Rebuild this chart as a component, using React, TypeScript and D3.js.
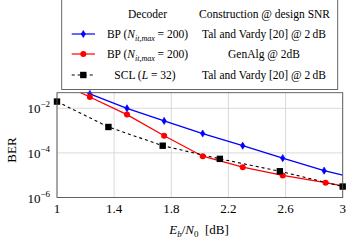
import { useMemo } from "react";
import * as d3 from "d3";

const W = 351;
const H = 241;
const PLOT = { left: 57, right: 342.7, top: 92.7, bottom: 197.5 };

// BP, Tal & Vardy construction
const bpTvEbN0 = [1.0, 1.23, 1.49, 1.75, 2.02, 2.3, 2.58, 2.87, 3.0];
const bpTvBer = [2e-1, 4.4e-2, 1.0e-2, 2.7e-3, 7.4e-4, 2.1e-4, 5.8e-5, 1.6e-5, 1.0e-5];
const bpTvMarks = [1, 2, 3, 4, 5, 6, 7];

// BP, GenAlg construction
const bpGaEbN0 = [1.0, 1.23, 1.49, 1.75, 2.02, 2.3, 2.58, 2.88, 3.0];
const bpGaBer = [1.6e-1, 3.2e-2, 5.2e-3, 5.9e-4, 7.1e-5, 2.3e-5, 9.8e-6, 4.6e-6, 3.3e-6];
const bpGaMarks = [1, 2, 3, 4, 5, 6, 7];

// SCL L=32
const sclEbN0 = [1.0, 1.36, 1.74, 2.14, 2.56, 3.0];
const sclBer = [2e-2, 1.45e-3, 2.1e-4, 5.4e-5, 1.5e-5, 3.1e-6];

const xTicks = [1, 1.4, 1.8, 2.2, 2.6, 3];
const yTicks = [-2, -4, -6];

const legendRows = [
  { decoder: "bp", construction: "Tal and Vardy [20] @ 2\u2009dB", color: "#0000ff", mark: "diamond", dash: "" },
  { decoder: "bp", construction: "GenAlg @ 2dB", color: "#ff0000", mark: "circle", dash: "" },
  { decoder: "scl", construction: "Tal and Vardy [20] @ 2\u2009dB", color: "#000000", mark: "square", dash: "3,3" },
];

const SERIF = "'Liberation Serif', 'DejaVu Serif', serif";

const Marker = ({ type, x, y, color }: { type: string; x: number; y: number; color: string }) => {
  if (type === "circle") return <circle cx={x} cy={y} r={3} fill={color} />;
  if (type === "square") return <rect x={x - 3.2} y={y - 3.2} width={6.4} height={6.4} fill={color} />;
  return (
    <path
      d={`M${x},${y - 3.6} L${x + 2.2},${y} L${x},${y + 3.6} L${x - 2.2},${y} Z`}
      fill={color}
      stroke={color}
      strokeWidth={0.6}
    />
  );
};

export default function App() {
  const xScale = useMemo(() => d3.scaleLinear().domain([1, 3]).range([PLOT.left, PLOT.right]), []);
  const yScale = useMemo(
    () => d3.scaleLog().domain([1e-6, 5e-2]).range([PLOT.bottom, PLOT.top]),
    []
  );

  const line = d3
    .line<[number, number]>()
    .x((d) => xScale(d[0]))
    .y((d) => yScale(d[1]));

  const zip = (xs: number[], ys: number[]) => xs.map((x, i) => [x, ys[i]] as [number, number]);
  const bpTv = zip(bpTvEbN0, bpTvBer);
  const bpGa = zip(bpGaEbN0, bpGaBer);
  const scl = zip(sclEbN0, sclBer);

  const rowY = [38, 58, 79];

  return (
    <div style={{ position: "fixed", left: 0, top: 0 }}>
      <svg width={W} height={H} fontFamily={SERIF}>
        <rect width={W} height={H} fill="#fff" />
        <defs>
          <clipPath id="plotclip">
            <rect x={PLOT.left} y={PLOT.top} width={PLOT.right - PLOT.left} height={PLOT.bottom - PLOT.top} />
          </clipPath>
        </defs>

        {/* grid */}
        {xTicks.map((t) => (
          <line key={"gx" + t} x1={xScale(t)} x2={xScale(t)} y1={PLOT.top} y2={PLOT.bottom} stroke="#d0d0d0" strokeWidth={0.8} />
        ))}
        {yTicks.map((t) => (
          <line
            key={"gy" + t}
            x1={PLOT.left}
            x2={PLOT.right}
            y1={yScale(Math.pow(10, t))}
            y2={yScale(Math.pow(10, t))}
            stroke="#d0d0d0"
            strokeWidth={0.8}
          />
        ))}

        {/* series */}
        <g clipPath="url(#plotclip)">
          <path d={line(bpTv) ?? ""} fill="none" stroke="#0000ff" strokeWidth={1.3} />
          <path d={line(bpGa) ?? ""} fill="none" stroke="#ff0000" strokeWidth={1.3} />
          <path d={line(scl) ?? ""} fill="none" stroke="#000" strokeWidth={1.1} strokeDasharray="3,3" />
        </g>
        {bpTvMarks.map((i) => (
          <Marker key={"b" + i} type="diamond" x={xScale(bpTvEbN0[i])} y={yScale(bpTvBer[i])} color="#0000ff" />
        ))}
        {bpGaMarks.map((i) => (
          <Marker key={"r" + i} type="circle" x={xScale(bpGaEbN0[i])} y={yScale(bpGaBer[i])} color="#ff0000" />
        ))}
        {scl.map((d, i) => (
          <Marker key={"s" + i} type="square" x={xScale(d[0])} y={yScale(d[1])} color="#000" />
        ))}

        {/* frame */}
        <rect
          x={PLOT.left}
          y={PLOT.top}
          width={PLOT.right - PLOT.left}
          height={PLOT.bottom - PLOT.top}
          fill="none"
          stroke="#555"
          strokeWidth={0.9}
        />

        {/* x tick labels */}
        {xTicks.map((t) => (
          <text key={"xl" + t} x={xScale(t)} y={213} textAnchor="middle" fontSize={13}>
            {d3.format("")(t)}
          </text>
        ))}
        {/* y tick labels */}
        {yTicks.map((t) => (
          <text key={"yl" + t} x={50} y={yScale(Math.pow(10, t)) + 5} textAnchor="end" fontSize={13}>
            10
            <tspan fontSize={9} dy={-6}>
              {"\u2212" + Math.abs(t)}
            </tspan>
          </text>
        ))}

        {/* axis labels */}
        <text x={199} y={234} textAnchor="middle" fontSize={13}>
          <tspan fontStyle="italic">E</tspan>
          <tspan fontStyle="italic" fontSize={9} dy={3}>b</tspan>
          <tspan dy={-3}>/</tspan>
          <tspan fontStyle="italic">N</tspan>
          <tspan fontSize={9} dy={3}>0</tspan>
          <tspan dy={-3}>{"\u2002[dB]"}</tspan>
        </text>
        <text transform="translate(16,150) rotate(-90)" textAnchor="middle" fontSize={13}>
          BER
        </text>

        {/* legend */}
        <rect x={61.7} y={-2} width={276} height={91.5} fill="#fff" stroke="#555" strokeWidth={0.9} />
        <text x={147.5} y={18} textAnchor="middle" fontSize={11.5}>Decoder</text>
        <text x={264.5} y={18} textAnchor="middle" fontSize={11.5}>Construction @ design SNR</text>
        {legendRows.map((r, i) => (
          <g key={"lg" + i}>
            <line x1={71.7} x2={95} y1={rowY[i] - 4} y2={rowY[i] - 4} stroke={r.color} strokeWidth={1.2} strokeDasharray={r.dash} />
            <Marker type={r.mark} x={83.3} y={rowY[i] - 4} color={r.color} />
            {r.decoder === "bp" ? (
              <text x={147.5} y={rowY[i]} textAnchor="middle" fontSize={11.5}>
                {"BP ("}
                <tspan fontStyle="italic">N</tspan>
                <tspan fontStyle="italic" fontSize={8} dy={2.5}>it,max</tspan>
                <tspan dy={-2.5}>{" = 200)"}</tspan>
              </text>
            ) : (
              <text x={145} y={rowY[i]} textAnchor="middle" fontSize={11.5}>
                {"SCL ("}
                <tspan fontStyle="italic">L</tspan>
                {" = 32)"}
              </text>
            )}
            <text x={264} y={rowY[i]} textAnchor="middle" fontSize={11.5}>
              {r.construction}
            </text>
          </g>
        ))}
      </svg>
    </div>
  );
}
